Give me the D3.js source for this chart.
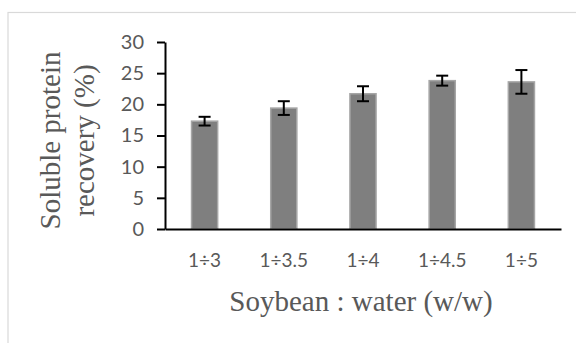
<!DOCTYPE html>
<html>
<head>
<meta charset="utf-8">
<script src="https://cdn.jsdelivr.net/npm/d3@7"></script>
<style>
  body { margin: 0; background: #fff; }
  svg { display: block; }
</style>
</head>
<body>
<div id="chart"></div>
<script>
// data
var ratios = ["1÷3", "1÷3.5", "1÷4", "1÷4.5", "1÷5"];
var recovery = [17.3, 19.4, 21.7, 23.8, 23.6];
var errors = [0.7, 1.1, 1.2, 0.8, 1.9];
var yTicks = [0, 5, 10, 15, 20, 25, 30];

var svgWidth = 576;
var svgHeight = 343;

var margin = { top: 42, right: 15, bottom: 114, left: 165 };
var chart_width = svgWidth - margin.left - margin.right;
var chart_height = svgHeight - margin.top - margin.bottom;

var svg = d3.select("#chart")
    .append("svg")
    .attr("width", svgWidth)
    .attr("height", svgHeight);

// outer chart-area border (light gray, top and left visible)
svg.append("rect")
    .attr("x", 8)
    .attr("y", 12.5)
    .attr("width", svgWidth)
    .attr("height", svgHeight)
    .attr("fill", "none")
    .attr("stroke", "#d9d9d9")
    .attr("stroke-width", 1.2);

var chartGroup = svg.append("g")
    .attr("transform", `translate(${margin.left}, ${margin.top})`);

var data = ratios.map(function(r, i) {
    return { ratio: r, value: recovery[i], err: errors[i] };
});

var xScale = d3.scaleBand()
    .domain(ratios)
    .range([0, chart_width])
    .padding(0);

var yScale = d3.scaleLinear()
    .domain([0, 30])
    .range([chart_height, 0]);

var barWidth = xScale.bandwidth() * 0.33;

// bars
chartGroup.append("g")
    .selectAll("rect")
    .data(data)
    .enter()
    .append("rect")
    .attr("x", d => xScale(d.ratio) + xScale.bandwidth() / 2 - barWidth / 2)
    .attr("y", d => yScale(d.value))
    .attr("width", barWidth)
    .attr("height", d => chart_height - yScale(d.value))
    .attr("fill", "#7f7f7f")
    .attr("stroke", "#a6a6a6")
    .attr("stroke-width", 1.5);

// error bars
var errGroup = chartGroup.append("g")
    .attr("stroke", "#000")
    .attr("stroke-width", 2);

errGroup.selectAll(".stem")
    .data(data)
    .enter()
    .append("line")
    .attr("x1", d => xScale(d.ratio) + xScale.bandwidth() / 2)
    .attr("x2", d => xScale(d.ratio) + xScale.bandwidth() / 2)
    .attr("y1", d => yScale(d.value + d.err))
    .attr("y2", d => yScale(d.value - d.err));

errGroup.selectAll(".capTop")
    .data(data)
    .enter()
    .append("line")
    .attr("x1", d => xScale(d.ratio) + xScale.bandwidth() / 2 - 6)
    .attr("x2", d => xScale(d.ratio) + xScale.bandwidth() / 2 + 6)
    .attr("y1", d => yScale(d.value + d.err))
    .attr("y2", d => yScale(d.value + d.err));

errGroup.selectAll(".capBottom")
    .data(data)
    .enter()
    .append("line")
    .attr("x1", d => xScale(d.ratio) + xScale.bandwidth() / 2 - 6)
    .attr("x2", d => xScale(d.ratio) + xScale.bandwidth() / 2 + 6)
    .attr("y1", d => yScale(d.value - d.err))
    .attr("y2", d => yScale(d.value - d.err));

// axes
var leftAxis = d3.axisLeft(yScale)
    .tickValues(yTicks)
    .tickSize(8)
    .tickPadding(13)
    .tickSizeOuter(0);

var bottomAxis = d3.axisBottom(xScale)
    .tickSize(0)
    .tickPadding(25)
    .tickSizeOuter(0);

var yAxisG = chartGroup.append("g")
    .call(leftAxis);

var xAxisG = chartGroup.append("g")
    .attr("transform", `translate(0, ${chart_height})`)
    .call(bottomAxis);

[yAxisG, xAxisG].forEach(function(g) {
    g.select(".domain").attr("stroke", "#000").attr("stroke-width", 2);
    g.selectAll(".tick line").attr("stroke", "#000").attr("stroke-width", 2);
    g.selectAll("text")
        .attr("fill", "#595959")
        .style("font-family", "Lato, 'Open Sans', sans-serif");
});
yAxisG.selectAll("text").style("font-size", "20px");
xAxisG.selectAll("text").style("font-size", "19px");

// axis titles
chartGroup.append("text")
    .attr("transform", `translate(-105, ${chart_height / 2 + 5}) rotate(-90)`)
    .attr("text-anchor", "middle")
    .attr("fill", "#595959")
    .style("font-family", "'Liberation Serif', 'Times New Roman', serif")
    .style("font-size", "29px")
    .text("Soluble protein");

chartGroup.append("text")
    .attr("transform", `translate(-71, ${chart_height / 2 + 5}) rotate(-90)`)
    .attr("text-anchor", "middle")
    .attr("fill", "#595959")
    .style("font-family", "'Liberation Serif', 'Times New Roman', serif")
    .style("font-size", "29px")
    .text("recovery (%)");

chartGroup.append("text")
    .attr("x", chart_width / 2 - 2)
    .attr("y", chart_height + 82)
    .attr("text-anchor", "middle")
    .attr("fill", "#595959")
    .style("font-family", "'Liberation Serif', 'Times New Roman', serif")
    .style("font-size", "29px")
    .text("Soybean : water (w/w)");
</script>
</body>
</html>
